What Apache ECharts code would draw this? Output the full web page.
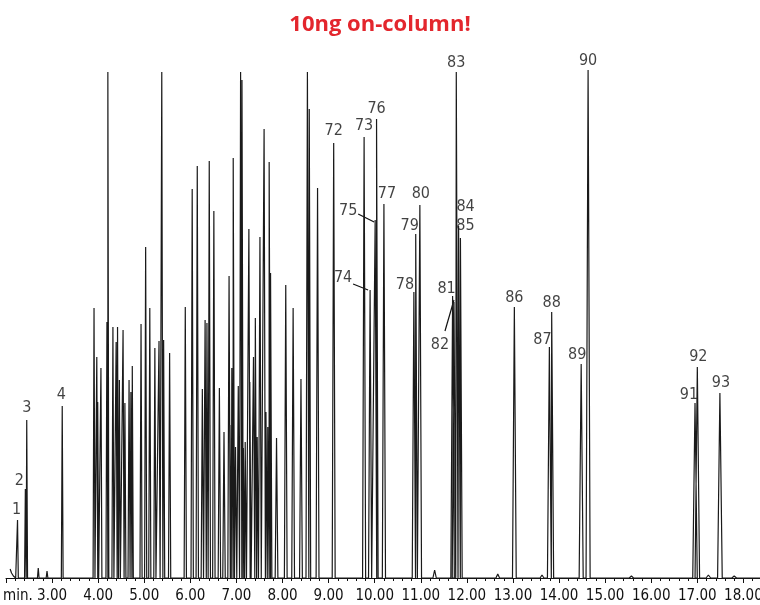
<!DOCTYPE html>
<html>
<head>
<meta charset="utf-8">
<script src="https://cdn.jsdelivr.net/npm/echarts@6/dist/echarts.min.js"></script>
<style>
html, body { margin: 0; padding: 0; background: #fff; }
#chart { width: 760px; height: 605px; }
</style>
</head>
<body>
<div id="chart"></div>
<script>
// labelled peaks: number, retention time (min), height above baseline
const peakIds = ['1', '2', '3', '4', '72', '73', '74', '75', '76', '77', '78', '79', '80',
    '81', '82', '83', '84', '85', '86', '87', '88', '89', '90', '91', '92', '93'];
const peakTimes = [2.25, 2.42, 2.45, 3.22, 9.11, 9.77, 9.90, 10.01, 10.04, 10.20, 10.85, 10.89, 10.98,
    11.69, 11.72, 11.77, 11.82, 11.86, 13.03, 13.79, 13.84, 14.48, 14.63, 16.95, 17.00, 17.49];
const peakHeights = [58, 89, 158, 172, 435, 441, 288, 358, 459, 374, 286, 344, 373,
    282, 276, 506, 352, 340, 271, 231, 266, 214, 508, 175, 211, 185];

// unlabelled peaks (the 5-71 cluster plus small bumps on the baseline)
const otherTimes = [2.70, 2.89,
    3.91, 3.97, 3.99, 4.06, 4.19, 4.21, 4.32, 4.39, 4.42, 4.46,
    4.54, 4.58, 4.67, 4.71, 4.74, 4.93, 5.03, 5.12, 5.23, 5.32,
    5.38, 5.42, 5.55, 5.89, 6.04, 6.15, 6.26, 6.32, 6.36, 6.41,
    6.51, 6.63, 6.73, 6.84, 6.86, 6.90, 6.93, 6.98, 7.04, 7.09,
    7.12, 7.15, 7.19, 7.27, 7.29, 7.37, 7.41, 7.45, 7.51, 7.60,
    7.64, 7.68, 7.71, 7.74, 7.87, 8.07, 8.23, 8.40, 8.54, 8.58,
    8.76, 11.30, 12.67, 13.63, 15.57, 17.24, 17.80];
const otherHeights = [10, 7,
    270, 221, 176, 210, 256, 506, 251, 236, 251, 198,
    248, 175, 198, 186, 212, 254, 331, 270, 230, 237,
    506, 238, 225, 271, 389, 412, 189, 258, 255, 417,
    367, 190, 146, 302, 153, 210, 420, 131, 192, 506,
    498, 130, 136, 349, 196, 221, 260, 141, 341, 449,
    166, 151, 416, 305, 140, 293, 270, 199, 506, 469,
    390, 8, 4, 3, 2, 3, 2];

// solvent tail at the start of the run
const tailTimes = [2.09, 2.12, 2.16, 2.21];
const tailValues = [9, 5, 2, 0];

// label placement (px, relative to the peak apex)
const labelOffsets = {
    '1': [-1, -10], '2': [-6, -8], '3': [0, -12], '4': [-1, -11],
    '72': [0, -12], '73': [0, -11], '74': [-27, -12], '75': [-27, -9], '76': [0, -10],
    '77': [3, -10], '78': [-9, -7], '79': [-6, -8], '80': [1, -11],
    '81': [-6, -7], '82': [-14, 43], '83': [0, -9], '84': [7, -19], '85': [5, -12],
    '86': [0, -9], '87': [-7, -7], '88': [0, -9], '89': [-4, -9], '90': [0, -9],
    '91': [-6, -8], '92': [1, -10], '93': [1, -10]
};
const leaders = {
    '74': [[-17, -6], [-2, 0]],
    '75': [[-17, -6], [-1, 2]],
    '82': [[-9, 29], [0, -2]]
};

const FONT = '"Liberation Sans Narrow", "DejaVu Sans Condensed", sans-serif';

const allPeaks = peakTimes.map((t, i) => [t, peakHeights[i]])
    .concat(otherTimes.map((t, i) => [t, otherHeights[i]]))
    .sort((a, b) => a[0] - b[0]);

const trace = tailTimes.map((t, i) => [t, tailValues[i]]);
allPeaks.forEach(p => {
    const w = 0.012 + 0.0022 * p[0]; // peaks broaden later in the run
    trace.push([p[0] - w, 0], [p[0], p[1]], [p[0] + w, 0]);
});
trace.push([18.36, 0]);

const labelData = peakIds.map((id, i) => ({
    value: [peakTimes[i], peakHeights[i]],
    label: { formatter: id, offset: labelOffsets[id] || [0, -11] }
}));

const minLabel = {
    type: 'text', left: 3, top: 589,
    style: { text: 'min.', fontSize: 15, fontFamily: FONT, fill: '#111' }
};

const chart = echarts.init(document.getElementById('chart'));
chart.setOption({
    animation: false,
    title: {
        text: '10ng on-column!',
        left: 'center',
        top: 9,
        textStyle: { color: '#e3262d', fontSize: 22, fontWeight: 'bold', fontFamily: '"Open Sans", sans-serif' }
    },
    grid: { left: 6, right: 0, top: 70, bottom: 23, outerBoundsMode: 'none' },
    xAxis: {
        type: 'value',
        min: 2,
        max: 18.36,
        interval: 1,
        axisLine: { lineStyle: { color: '#111', width: 1 } },
        axisTick: { length: 5, lineStyle: { color: '#111' } },
        minorTick: { show: true, splitNumber: 5, length: 3, lineStyle: { color: '#111' } },
        splitLine: { show: false },
        axisLabel: {
            showMinLabel: false,
            showMaxLabel: false,
            margin: 7,
            color: '#111',
            fontSize: 15,
            fontFamily: FONT,
            formatter: v => v.toFixed(2)
        }
    },
    yAxis: { type: 'value', min: -4, max: 508, show: false },
    graphic: [minLabel],
    series: [{
        type: 'line',
        data: trace,
        showSymbol: false,
        silent: true,
        lineStyle: { color: '#1a1a1a', width: 1.2 }
    }, {
        type: 'scatter',
        data: labelData,
        symbolSize: 0,
        silent: true,
        label: {
            show: true,
            position: 'inside',
            color: '#111',
            fontSize: 16,
            fontFamily: FONT
        }
    }]
});

// leader lines for the crowded labels
const leaderGraphics = [];
Object.keys(leaders).forEach(id => {
    const i = peakIds.indexOf(id);
    const p = chart.convertToPixel({ seriesIndex: 0 }, [peakTimes[i], peakHeights[i]]);
    const a = leaders[id][0], b = leaders[id][1];
    leaderGraphics.push({
        type: 'line',
        shape: { x1: p[0] + a[0], y1: p[1] + a[1], x2: p[0] + b[0], y2: p[1] + b[1] },
        style: { stroke: '#111', lineWidth: 1.2 }
    });
});
chart.setOption({ graphic: [minLabel].concat(leaderGraphics) });
</script>
</body>
</html>
